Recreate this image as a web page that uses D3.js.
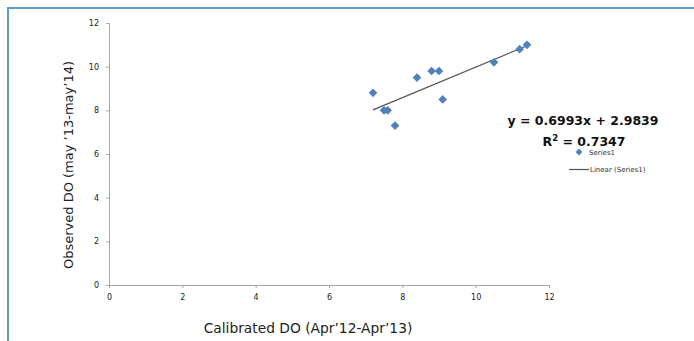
<!DOCTYPE html>
<html>
<head>
<meta charset="utf-8">
<script src="https://cdn.jsdelivr.net/npm/d3@7"></script>
<style>
  body { margin: 0; background: #fff; }
  text { font-family: "DejaVu Sans", Verdana, sans-serif; }
</style>
</head>
<body>
<script>
// calibrated vs observed DO
var calibrated = [7.2, 7.5, 7.6, 7.8, 8.4, 8.8, 9.0, 9.1, 10.5, 11.2, 11.4]
var observed   = [8.8, 8.0, 8.0, 7.3, 9.5, 9.8, 9.8, 8.5, 10.2, 10.8, 11.0]
var ticks = [0, 2, 4, 6, 8, 10, 12]
var fit = {slope: 0.6993, intercept: 2.9839, r2: 0.7347}

var W = 694, H = 341
var svg = d3.select('body').append('svg').attr('width', W).attr('height', H)

// frame border (top + left)
svg.append('path').attr('d', 'M8,' + H + 'L8,8L' + W + ',8')
  .style('fill', 'none').style('stroke', '#5b9bd5').style('stroke-width', 2)

var x = d3.scaleLinear().domain([0, 12]).range([109, 549])
var y = d3.scaleLinear().domain([0, 12]).range([285, 23])

var xAxis = svg.append('g').attr('transform', 'translate(0,285)')
  .call(d3.axisBottom(x).tickValues(ticks).tickSize(3).tickPadding(6))
var yAxis = svg.append('g').attr('transform', 'translate(109,0)')
  .call(d3.axisLeft(y).tickValues(ticks).tickSize(3).tickPadding(7))

;[xAxis, yAxis].forEach(function(g){
  g.selectAll('path, line').style('stroke', '#a6a6a6').style('stroke-width', 1)
  g.selectAll('text').style('font-size', '8px').style('fill', '#222')
    .style('font-family', '"DejaVu Sans", Verdana, sans-serif')
})

// trend line over data range
var xr = d3.extent(calibrated)
svg.append('line')
  .attr('x1', x(xr[0])).attr('y1', y(fit.slope * xr[0] + fit.intercept))
  .attr('x2', x(xr[1])).attr('y2', y(fit.slope * xr[1] + fit.intercept))
  .style('stroke', '#555').style('stroke-width', 1.2)

var diamond = d3.symbol().type(d3.symbolDiamond2).size(48)
svg.append('g').selectAll('path').data(calibrated).enter().append('path')
  .attr('d', diamond)
  .attr('transform', function(d, i){ return 'translate(' + x(d) + ',' + y(observed[i]) + ')' })
  .style('fill', '#4f81bd')

// equation
svg.append('text').attr('x', 583).attr('y', 125).attr('text-anchor', 'middle')
  .style('font-size', '12.5px').style('font-weight', 'bold').style('fill', '#111')
  .text('y = ' + fit.slope + 'x + ' + fit.intercept)
var r = svg.append('text').attr('x', 584).attr('y', 146).attr('text-anchor', 'middle')
  .style('font-size', '12.5px').style('font-weight', 'bold').style('fill', '#111')
r.append('tspan').text('R')
r.append('tspan').attr('dy', -5).style('font-size', '8.5px').text('2')
r.append('tspan').attr('dy', 5).text(' = ' + fit.r2)

// legend
svg.append('path').attr('d', d3.symbol().type(d3.symbolDiamond2).size(30))
  .attr('transform', 'translate(579,152)').style('fill', '#4f81bd')
svg.append('text').attr('x', 589).attr('y', 155).style('font-size', '7px').style('fill', '#333').text('Series1')
svg.append('line').attr('x1', 569).attr('x2', 589).attr('y1', 169.5).attr('y2', 169.5)
  .style('stroke', '#555').style('stroke-width', 1.2)
svg.append('text').attr('x', 590).attr('y', 172).style('font-size', '7px').style('fill', '#333').text('Linear (Series1)')

// axis titles
svg.append('text').attr('x', 308).attr('y', 333).attr('text-anchor', 'middle')
  .style('font-size', '13.8px').style('fill', '#222').text('Calibrated DO (Apr\u201912-Apr\u201913)')
svg.append('text').attr('transform', 'translate(73,165)rotate(-90)').attr('text-anchor', 'middle')
  .style('font-size', '13px').style('fill', '#222').text('Observed DO (may \u201913-may\u201914)')
</script>
</body>
</html>
